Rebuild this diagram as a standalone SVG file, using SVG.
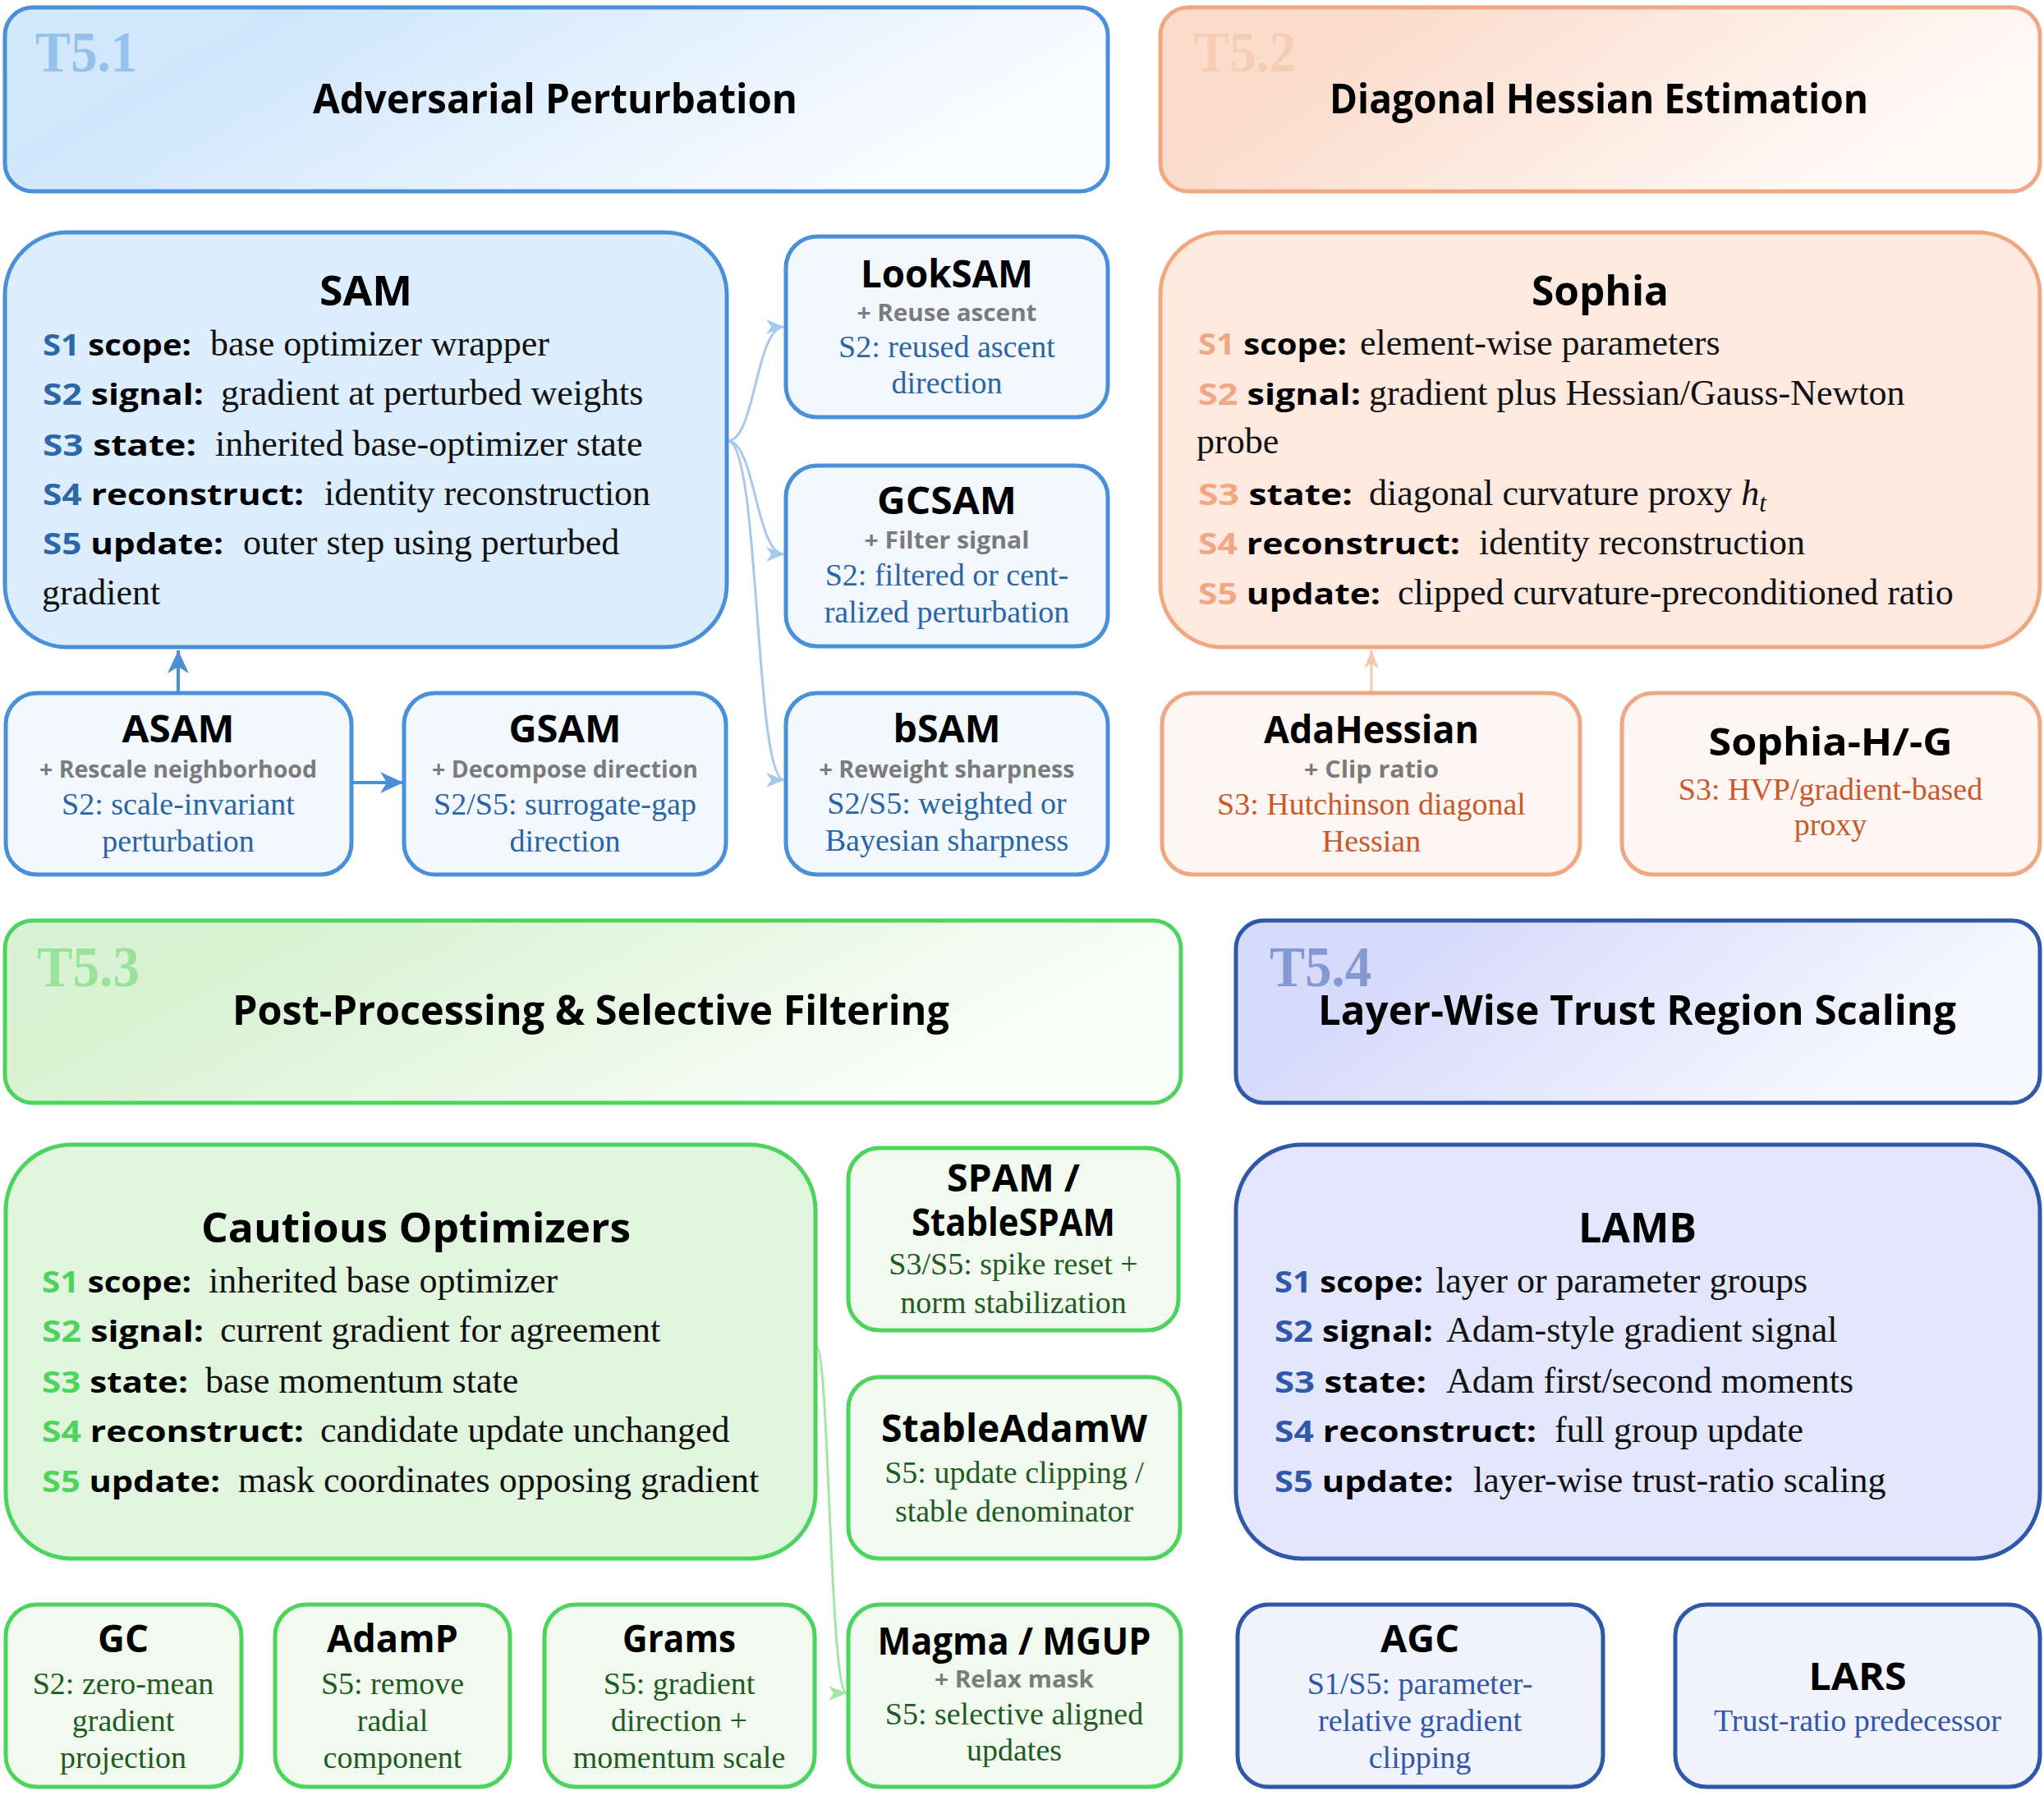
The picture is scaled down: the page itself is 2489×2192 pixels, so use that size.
<svg xmlns="http://www.w3.org/2000/svg" width="2489" height="2192" viewBox="0 0 2489 2192">
<style>
.ht{font-family:"Open Sans","Liberation Sans",sans-serif;font-weight:700;font-size:50px;fill:#000}
.tl{font-family:"Liberation Serif","Times New Roman",serif;font-weight:700;font-size:70px}
.mt{font-family:"Open Sans","Liberation Sans",sans-serif;font-weight:700;font-size:50px;fill:#000}
.st{font-family:"Open Sans","Liberation Sans",sans-serif;font-weight:700;font-size:46px;fill:#000;text-anchor:middle}
.lb{font-family:"Open Sans","Liberation Sans",sans-serif;font-weight:700;font-size:36px;fill:#000}
.bd{font-family:"Liberation Serif","Times New Roman",serif;font-size:44px;fill:#111}
.sub{font-family:"Liberation Serif","Times New Roman",serif;font-size:38px;text-anchor:middle}
.plus{font-family:"Open Sans","Liberation Sans",sans-serif;font-weight:700;font-size:28px;fill:#7b7b7b;text-anchor:middle}
.bl{stroke:#4a90d9;stroke-width:5}
.or{stroke:#f0a882;stroke-width:5}
.gr{stroke:#4cd45c;stroke-width:5}
.ind{stroke:#2f58a8;stroke-width:5}
.bsm{fill:#f3f8fe}
.osm{fill:#fdf6f2}
.gsm{fill:#f2faf0}
.ism{fill:#f0f2fd}
.cb{fill:#2b67a9}
.co{fill:#f0a882}
.cg{fill:#4cd45c}
.ci{fill:#2f58a8}
.sb{fill:#2a65a5}
.so{fill:#c8592a}
.sg{fill:#1f5c23}
.si{fill:#3157a8}
.conn{fill:none}
</style>
<defs>
<linearGradient id="g1" x1="0" y1="0" x2="1" y2="0.3">
<stop offset="0" stop-color="#d3e9fc"/><stop offset="0.25" stop-color="#cfe6fc"/><stop offset="1" stop-color="#fafcff"/>
</linearGradient>
<linearGradient id="g2" x1="0" y1="0" x2="1" y2="0.3">
<stop offset="0" stop-color="#fcdccb"/><stop offset="0.25" stop-color="#fbdccc"/><stop offset="1" stop-color="#fffaf7"/>
</linearGradient>
<linearGradient id="g3" x1="0" y1="0" x2="1" y2="0.3">
<stop offset="0" stop-color="#d9f2d4"/><stop offset="0.25" stop-color="#d8f2d2"/><stop offset="1" stop-color="#fbfefa"/>
</linearGradient>
<linearGradient id="g4" x1="0" y1="0" x2="1" y2="0.3">
<stop offset="0" stop-color="#d7dbfb"/><stop offset="0.25" stop-color="#d6dafb"/><stop offset="1" stop-color="#f8f9fe"/>
</linearGradient>
<marker id="aB" markerUnits="userSpaceOnUse" markerWidth="30" markerHeight="30" viewBox="0 0 30 30" refX="28" refY="15" orient="auto"><path d="M0,2 L28,15 L0,28 L8,15 z" fill="#4a90d9"/></marker>
<marker id="aLB" markerUnits="userSpaceOnUse" markerWidth="24" markerHeight="24" viewBox="0 0 24 24" refX="22" refY="12" orient="auto"><path d="M0,3 L22,12 L0,21 L6,12 z" fill="#a7c9ee"/></marker>
<marker id="aLO" markerUnits="userSpaceOnUse" markerWidth="24" markerHeight="24" viewBox="0 0 24 24" refX="22" refY="12" orient="auto"><path d="M0,3 L22,12 L0,21 L6,12 z" fill="#f7c7ad"/></marker>
<marker id="aLG" markerUnits="userSpaceOnUse" markerWidth="24" markerHeight="24" viewBox="0 0 24 24" refX="22" refY="12" orient="auto"><path d="M0,3 L22,12 L0,21 L6,12 z" fill="#a3e6a8"/></marker>
</defs>

<rect width="2489" height="2192" fill="#ffffff"/>

<!-- Headers -->
<g id="hdr-t51">
<rect class="bl" x="6" y="9" width="1343" height="224" rx="34" fill="url(#g1)"/>
<text class="tl" x="43" y="87" fill="#94c2ec" textLength="124" lengthAdjust="spacingAndGlyphs">T5.1</text>
<text class="ht" x="381" y="138" textLength="590" lengthAdjust="spacingAndGlyphs">Adversarial Perturbation</text>
</g>
<g id="hdr-t52">
<rect class="or" x="1413" y="9" width="1071" height="224" rx="34" fill="url(#g2)"/>
<text class="tl" x="1454" y="87" fill="#f8cbb3" textLength="124" lengthAdjust="spacingAndGlyphs">T5.2</text>
<text class="ht" x="1619" y="138" textLength="656" lengthAdjust="spacingAndGlyphs">Diagonal Hessian Estimation</text>
</g>
<g id="hdr-t53">
<rect class="gr" x="6" y="1121" width="1432" height="222" rx="34" fill="url(#g3)"/>
<text class="tl" x="45" y="1201" fill="#98e29c" textLength="125" lengthAdjust="spacingAndGlyphs">T5.3</text>
<text class="ht" x="283" y="1248" textLength="873" lengthAdjust="spacingAndGlyphs">Post-Processing &amp; Selective Filtering</text>
</g>
<g id="hdr-t54">
<rect class="ind" x="1505" y="1121" width="979" height="222" rx="34" fill="url(#g4)"/>
<text class="tl" x="1546" y="1201" fill="#8499d4" textLength="124" lengthAdjust="spacingAndGlyphs">T5.4</text>
<text class="ht" x="1605" y="1248" textLength="777" lengthAdjust="spacingAndGlyphs">Layer-Wise Trust Region Scaling</text>
</g>

<!-- Connectors -->
<g id="connectors">
<path class="conn" d="M217,843 L217,792" stroke="#4a90d9" stroke-width="4" marker-end="url(#aB)"/>
<path class="conn" d="M430,953 L491,953" stroke="#4a90d9" stroke-width="4" marker-end="url(#aB)"/>
<path class="conn" d="M886,537 C920,537 920,398 955,398" stroke="#a7c9ee" stroke-width="3" marker-end="url(#aLB)"/>
<path class="conn" d="M886,537 C920,537 920,675 955,675" stroke="#a7c9ee" stroke-width="3" marker-end="url(#aLB)"/>
<path class="conn" d="M886,537 C926,537 918,950 955,950" stroke="#a7c9ee" stroke-width="3" marker-end="url(#aLB)"/>
<path class="conn" d="M1670,843 L1670,792" stroke="#f7c7ad" stroke-width="3" marker-end="url(#aLO)"/>
<path class="conn" d="M994,1640 C1010,1640 1010,2062 1031,2062" stroke="#a3e6a8" stroke-width="3" marker-end="url(#aLG)"/>
</g>

<!-- T5.1 nodes -->
<g id="node-sam">
<rect class="bl" x="6" y="283" width="879" height="505" rx="76" fill="#dcedfd"/>
<text class="mt" x="389" y="372" textLength="113" lengthAdjust="spacingAndGlyphs">SAM</text>
<text class="lb" x="52" y="433" textLength="181" lengthAdjust="spacingAndGlyphs"><tspan class="cb">S1</tspan> scope:</text>
<text class="bd" x="256" y="433">base optimizer wrapper</text>
<text class="lb" x="52" y="493" textLength="196" lengthAdjust="spacingAndGlyphs"><tspan class="cb">S2</tspan> signal:</text>
<text class="bd" x="269" y="493">gradient at perturbed weights</text>
<text class="lb" x="52" y="555" textLength="187" lengthAdjust="spacingAndGlyphs"><tspan class="cb">S3</tspan> state:</text>
<text class="bd" x="262" y="555">inherited base-optimizer state</text>
<text class="lb" x="52" y="615" textLength="318" lengthAdjust="spacingAndGlyphs"><tspan class="cb">S4</tspan> reconstruct:</text>
<text class="bd" x="395" y="615">identity reconstruction</text>
<text class="lb" x="52" y="675" textLength="220" lengthAdjust="spacingAndGlyphs"><tspan class="cb">S5</tspan> update:</text>
<text class="bd" x="296" y="675">outer step using perturbed</text>
<text class="bd" x="51" y="736">gradient</text>
</g>
<g id="node-looksam">
<rect class="bl bsm" x="957" y="288" width="392" height="220" rx="38"/>
<text class="st" x="1153" y="350" textLength="210" lengthAdjust="spacingAndGlyphs">LookSAM</text>
<text class="plus" x="1153" y="391" textLength="219" lengthAdjust="spacingAndGlyphs">+ Reuse ascent</text>
<text class="sub sb" x="1153" y="435">S2: reused ascent</text>
<text class="sub sb" x="1153" y="479">direction</text>
</g>
<g id="node-gcsam">
<rect class="bl bsm" x="957" y="567" width="392" height="220" rx="38"/>
<text class="st" x="1153" y="626" textLength="170" lengthAdjust="spacingAndGlyphs">GCSAM</text>
<text class="plus" x="1153" y="668" textLength="201" lengthAdjust="spacingAndGlyphs">+ Filter signal</text>
<text class="sub sb" x="1153" y="713">S2: filtered or cent-</text>
<text class="sub sb" x="1153" y="758">ralized perturbation</text>
</g>
<g id="node-bsam">
<rect class="bl bsm" x="957" y="844" width="392" height="221" rx="38"/>
<text class="st" x="1153" y="904" textLength="131" lengthAdjust="spacingAndGlyphs">bSAM</text>
<text class="plus" x="1153" y="947" textLength="311" lengthAdjust="spacingAndGlyphs">+ Reweight sharpness</text>
<text class="sub sb" x="1153" y="991">S2/S5: weighted or</text>
<text class="sub sb" x="1153" y="1036">Bayesian sharpness</text>
</g>
<g id="node-asam">
<rect class="bl bsm" x="7" y="844" width="421" height="221" rx="38"/>
<text class="st" x="217" y="904" textLength="137" lengthAdjust="spacingAndGlyphs">ASAM</text>
<text class="plus" x="217" y="947" textLength="338" lengthAdjust="spacingAndGlyphs">+ Rescale neighborhood</text>
<text class="sub sb" x="217" y="992">S2: scale-invariant</text>
<text class="sub sb" x="217" y="1037">perturbation</text>
</g>
<g id="node-gsam">
<rect class="bl bsm" x="492" y="844" width="392" height="221" rx="38"/>
<text class="st" x="688" y="904" textLength="137" lengthAdjust="spacingAndGlyphs">GSAM</text>
<text class="plus" x="688" y="947" textLength="324" lengthAdjust="spacingAndGlyphs">+ Decompose direction</text>
<text class="sub sb" x="688" y="992">S2/S5: surrogate-gap</text>
<text class="sub sb" x="688" y="1037">direction</text>
</g>

<!-- T5.2 nodes -->
<g id="node-sophia">
<rect class="or" x="1413" y="283" width="1071" height="505" rx="76" fill="#fde9e0"/>
<text class="mt" x="1865" y="372" textLength="167" lengthAdjust="spacingAndGlyphs">Sophia</text>
<text class="lb" x="1459" y="432" textLength="181" lengthAdjust="spacingAndGlyphs"><tspan class="co">S1</tspan> scope:</text>
<text class="bd" x="1656" y="432">element-wise parameters</text>
<text class="lb" x="1459" y="493" textLength="198" lengthAdjust="spacingAndGlyphs"><tspan class="co">S2</tspan> signal:</text>
<text class="bd" x="1667" y="493">gradient plus Hessian/Gauss-Newton</text>
<text class="bd" x="1457" y="552">probe</text>
<text class="lb" x="1459" y="615" textLength="188" lengthAdjust="spacingAndGlyphs"><tspan class="co">S3</tspan> state:</text>
<text class="bd" x="1667" y="615">diagonal curvature proxy <tspan font-style="italic">h</tspan><tspan font-style="italic" font-size="31" dy="8">t</tspan></text>
<text class="lb" x="1459" y="675" textLength="319" lengthAdjust="spacingAndGlyphs"><tspan class="co">S4</tspan> reconstruct:</text>
<text class="bd" x="1801" y="675">identity reconstruction</text>
<text class="lb" x="1459" y="736" textLength="222" lengthAdjust="spacingAndGlyphs"><tspan class="co">S5</tspan> update:</text>
<text class="bd" x="1702" y="736">clipped curvature-preconditioned ratio</text>
</g>
<g id="node-adahessian">
<rect class="or osm" x="1415" y="844" width="509" height="221" rx="38"/>
<text class="st" x="1670" y="905" textLength="262" lengthAdjust="spacingAndGlyphs">AdaHessian</text>
<text class="plus" x="1670" y="947" textLength="164" lengthAdjust="spacingAndGlyphs">+ Clip ratio</text>
<text class="sub so" x="1670" y="992">S3: Hutchinson diagonal</text>
<text class="sub so" x="1670" y="1037">Hessian</text>
</g>
<g id="node-sophia-hg">
<rect class="or osm" x="1975" y="844" width="509" height="221" rx="38"/>
<text class="st" x="2229" y="920" textLength="297" lengthAdjust="spacingAndGlyphs">Sophia-H/-G</text>
<text class="sub so" x="2229" y="974">S3: HVP/gradient-based</text>
<text class="sub so" x="2229" y="1017">proxy</text>
</g>

<!-- T5.3 nodes -->
<g id="node-cautious">
<rect class="gr" x="7" y="1394" width="986" height="504" rx="80" fill="#e2f5de"/>
<text class="mt" x="245" y="1513" textLength="523" lengthAdjust="spacingAndGlyphs">Cautious Optimizers</text>
<text class="lb" x="51" y="1574" textLength="182" lengthAdjust="spacingAndGlyphs"><tspan class="cg">S1</tspan> scope:</text>
<text class="bd" x="254" y="1574">inherited base optimizer</text>
<text class="lb" x="51" y="1634" textLength="197" lengthAdjust="spacingAndGlyphs"><tspan class="cg">S2</tspan> signal:</text>
<text class="bd" x="268" y="1634">current gradient for agreement</text>
<text class="lb" x="51" y="1696" textLength="178" lengthAdjust="spacingAndGlyphs"><tspan class="cg">S3</tspan> state:</text>
<text class="bd" x="250" y="1696">base momentum state</text>
<text class="lb" x="51" y="1756" textLength="319" lengthAdjust="spacingAndGlyphs"><tspan class="cg">S4</tspan> reconstruct:</text>
<text class="bd" x="390" y="1756">candidate update unchanged</text>
<text class="lb" x="51" y="1817" textLength="217" lengthAdjust="spacingAndGlyphs"><tspan class="cg">S5</tspan> update:</text>
<text class="bd" x="290" y="1817">mask coordinates opposing gradient</text>
</g>
<g id="node-spam">
<rect class="gr gsm" x="1033" y="1398" width="402" height="222" rx="38"/>
<text class="st" x="1234" y="1451" font-size="44" textLength="162" lengthAdjust="spacingAndGlyphs">SPAM /</text>
<text class="st" x="1234" y="1505" font-size="44" textLength="248" lengthAdjust="spacingAndGlyphs">StableSPAM</text>
<text class="sub sg" x="1234" y="1552">S3/S5: spike reset +</text>
<text class="sub sg" x="1234" y="1599">norm stabilization</text>
</g>
<g id="node-stableadamw">
<rect class="gr gsm" x="1033" y="1677" width="404" height="221" rx="38"/>
<text class="st" x="1235" y="1756" textLength="324" lengthAdjust="spacingAndGlyphs">StableAdamW</text>
<text class="sub sg" x="1235" y="1806">S5: update clipping /</text>
<text class="sub sg" x="1235" y="1853">stable denominator</text>
</g>
<g id="node-gc">
<rect class="gr gsm" x="7" y="1954" width="287" height="222" rx="38"/>
<text class="st" x="150" y="2012" textLength="62" lengthAdjust="spacingAndGlyphs">GC</text>
<text class="sub sg" x="150" y="2063">S2: zero-mean</text>
<text class="sub sg" x="150" y="2108">gradient</text>
<text class="sub sg" x="150" y="2153">projection</text>
</g>
<g id="node-adamp">
<rect class="gr gsm" x="335" y="1954" width="286" height="222" rx="38"/>
<text class="st" x="478" y="2012" textLength="160" lengthAdjust="spacingAndGlyphs">AdamP</text>
<text class="sub sg" x="478" y="2063">S5: remove</text>
<text class="sub sg" x="478" y="2108">radial</text>
<text class="sub sg" x="478" y="2153">component</text>
</g>
<g id="node-grams">
<rect class="gr gsm" x="663" y="1954" width="329" height="222" rx="38"/>
<text class="st" x="827" y="2012" textLength="138" lengthAdjust="spacingAndGlyphs">Grams</text>
<text class="sub sg" x="827" y="2063">S5: gradient</text>
<text class="sub sg" x="827" y="2108">direction +</text>
<text class="sub sg" x="827" y="2153">momentum scale</text>
</g>
<g id="node-magma">
<rect class="gr gsm" x="1033" y="1954" width="405" height="222" rx="38"/>
<text class="st" x="1235" y="2015" textLength="333" lengthAdjust="spacingAndGlyphs">Magma / MGUP</text>
<text class="plus" x="1235" y="2055" textLength="194" lengthAdjust="spacingAndGlyphs">+ Relax mask</text>
<text class="sub sg" x="1235" y="2100">S5: selective aligned</text>
<text class="sub sg" x="1235" y="2144">updates</text>
</g>

<!-- T5.4 nodes -->
<g id="node-lamb">
<rect class="ind" x="1505" y="1394" width="979" height="504" rx="80" fill="#e3e6fc"/>
<text class="mt" x="1922" y="1513" textLength="144" lengthAdjust="spacingAndGlyphs">LAMB</text>
<text class="lb" x="1552" y="1574" textLength="181" lengthAdjust="spacingAndGlyphs"><tspan class="ci">S1</tspan> scope:</text>
<text class="bd" x="1748" y="1574">layer or parameter groups</text>
<text class="lb" x="1552" y="1634" textLength="193" lengthAdjust="spacingAndGlyphs"><tspan class="ci">S2</tspan> signal:</text>
<text class="bd" x="1761" y="1634">Adam-style gradient signal</text>
<text class="lb" x="1552" y="1696" textLength="185" lengthAdjust="spacingAndGlyphs"><tspan class="ci">S3</tspan> state:</text>
<text class="bd" x="1761" y="1696">Adam first/second moments</text>
<text class="lb" x="1552" y="1756" textLength="319" lengthAdjust="spacingAndGlyphs"><tspan class="ci">S4</tspan> reconstruct:</text>
<text class="bd" x="1893" y="1756">full group update</text>
<text class="lb" x="1552" y="1817" textLength="218" lengthAdjust="spacingAndGlyphs"><tspan class="ci">S5</tspan> update:</text>
<text class="bd" x="1794" y="1817">layer-wise trust-ratio scaling</text>
</g>
<g id="node-agc">
<rect class="ind ism" x="1507" y="1954" width="445" height="222" rx="38"/>
<text class="st" x="1729" y="2012" textLength="96" lengthAdjust="spacingAndGlyphs">AGC</text>
<text class="sub si" x="1729" y="2063">S1/S5: parameter-</text>
<text class="sub si" x="1729" y="2108">relative gradient</text>
<text class="sub si" x="1729" y="2153">clipping</text>
</g>
<g id="node-lars">
<rect class="ind ism" x="2040" y="1954" width="444" height="222" rx="38"/>
<text class="st" x="2262" y="2058" textLength="119" lengthAdjust="spacingAndGlyphs">LARS</text>
<text class="sub si" x="2262" y="2108">Trust-ratio predecessor</text>
</g>
</svg>
